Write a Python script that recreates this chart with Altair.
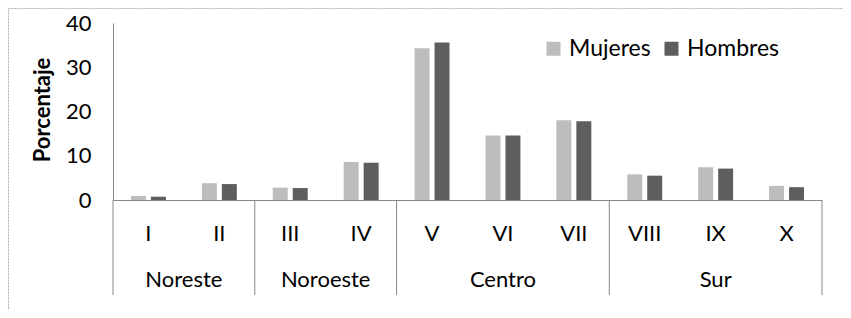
import altair as alt
import pandas as pd

categories = ["I", "II", "III", "IV", "V", "VI", "VII", "VIII", "IX", "X"]
regions = ["Noreste", "Noreste", "Noroeste", "Noroeste", "Centro", "Centro", "Centro", "Sur", "Sur", "Sur"]
mujeres = [0.9, 3.8, 2.8, 8.6, 34.3, 14.6, 18.0, 5.8, 7.4, 3.2]
hombres = [0.75, 3.6, 2.7, 8.4, 35.6, 14.6, 17.8, 5.5, 7.1, 2.9]
series = ["Mujeres", "Hombres"]
colors = ["#bdbdbd", "#5e5e5e"]
y_ticks = [0, 10, 20, 30, 40]
y_title = "Porcentaje"

FONT = "Lato"
W, H = 709, 177

rows = []
for c, r, m, h in zip(categories, regions, mujeres, hombres):
    rows.append({"cat": c, "region": r, "sexo": "Mujeres", "valor": m})
    rows.append({"cat": c, "region": r, "sexo": "Hombres", "valor": h})
df = pd.DataFrame(rows)

region_order = []
for r in regions:
    if r not in region_order:
        region_order.append(r)
reg_cats = {r: [c for c, rr in zip(categories, regions) if rr == r] for r in region_order}

x_scale = alt.Scale(domain=categories, paddingInner=0, paddingOuter=0)

bars = alt.Chart(df).mark_bar().encode(
    x=alt.X("cat:N", sort=categories, scale=x_scale,
            axis=alt.Axis(title=None, ticks=False, labelAngle=0, labelFont=FONT,
                          labelFontSize=22, labelColor="#000000", labelPadding=33,
                          labelBaseline="middle", domainColor="#888888")),
    xOffset=alt.XOffset("sexo:N", sort=series,
                        scale=alt.Scale(domain=series, paddingInner=0.25, paddingOuter=0.9)),
    y=alt.Y("valor:Q", scale=alt.Scale(domain=[0, 40], nice=False),
            axis=alt.Axis(values=y_ticks, title=None, grid=False, ticks=False,
                          labelFont=FONT, labelFontSize=22, labelColor="#000000",
                          labelPadding=22, domainColor="#888888")),
    color=alt.Color("sexo:N", sort=series,
                    scale=alt.Scale(domain=series, range=colors),
                    legend=alt.Legend(title=None, orient="none", legendX=429, legendY=14,
                                      direction="horizontal", symbolType="square",
                                      symbolSize=196, symbolStrokeWidth=0,
                                      labelFont=FONT, labelFontSize=23,
                                      labelColor="#000000", labelOffset=4,
                                      columnPadding=9)),
)

title = alt.Chart(pd.DataFrame({"t": [y_title]})).mark_text(
    font=FONT, fontSize=22, fontWeight="bold", color="#000000", angle=270,
    align="center", baseline="middle"
).encode(x=alt.value(-70), y=alt.value(87), text="t:N")

starts = pd.DataFrame({"cat": [reg_cats[r][0] for r in region_order]})
ends = pd.DataFrame({"cat": [categories[-1]]})
sep_start = alt.Chart(starts).mark_rule(color="#888888", strokeWidth=1).encode(
    x=alt.X("cat:N", sort=categories, bandPosition=0),
    y=alt.value(H), y2=alt.value(H + 95))
sep_end = alt.Chart(ends).mark_rule(color="#888888", strokeWidth=1).encode(
    x=alt.X("cat:N", sort=categories, bandPosition=1),
    y=alt.value(H), y2=alt.value(H + 95))

label_layers = []
for r in region_order:
    cs = reg_cats[r]
    n = len(cs)
    if n % 2 == 0:
        anchor, bp = cs[n // 2 - 1], 1
    else:
        anchor, bp = cs[n // 2], 0.5
    label_layers.append(
        alt.Chart(pd.DataFrame({"cat": [anchor], "region": [r]})).mark_text(
            font=FONT, fontSize=22, color="#000000", baseline="middle", align="center"
        ).encode(x=alt.X("cat:N", sort=categories, bandPosition=bp),
                 y=alt.value(H + 80), text="region:N")
    )

border = alt.Chart(pd.DataFrame({"a": [0]})).mark_rect(
    fill=None, stroke="#b0b0b0", strokeWidth=1, strokeDash=[2, 1]
).encode(x=alt.value(-104.5), x2=alt.value(W + 60), y=alt.value(-14.5), y2=alt.value(H + 150))

chart = alt.layer(border, bars, title, sep_start, sep_end, *label_layers).properties(
    width=W, height=H,
    autosize=alt.AutoSizeParams(type="none"),
    padding={"left": 105, "top": 15, "right": 21, "bottom": 110},
).configure_view(stroke=None)

chart.save("out.html", embed_options={"renderer": "svg", "actions": False})
